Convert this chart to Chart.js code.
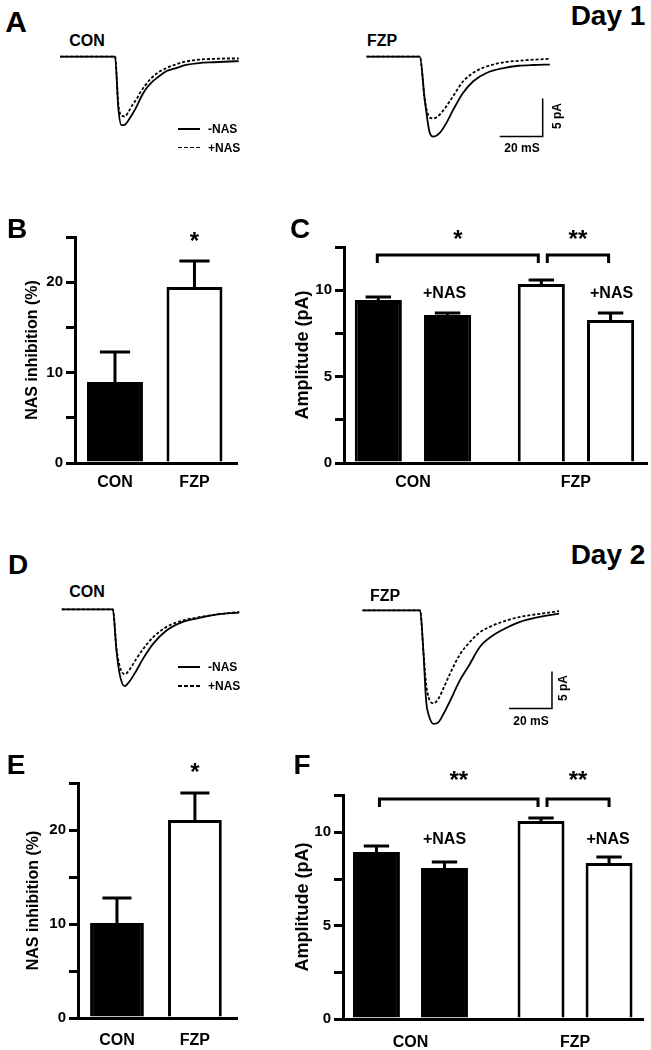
<!DOCTYPE html>
<html>
<head>
<meta charset="utf-8">
<title>NAS inhibition, Day 1 / Day 2</title>
<script src="https://cdn.jsdelivr.net/npm/chart.js@4.4.1/dist/chart.umd.min.js"></script>
<style>
  body { margin: 0; width: 651px; height: 1050px; position: relative; overflow: hidden; background: #fff;
         font-family: "Liberation Sans", Arial, sans-serif; font-weight: bold; color: #000; }
  canvas { position: absolute; }
  .t { position: absolute; white-space: nowrap; line-height: 1; transform: translate(-50%, -50%); }
  .l { position: absolute; white-space: nowrap; line-height: 1; transform: translateY(-50%); font-size: 12px; }
  .r { position: absolute; white-space: nowrap; line-height: 1; transform: translate(-50%, -50%) rotate(-90deg); font-size: 12px; }
  .seg { position: absolute; width: 22px; height: 1.6px; background: #000; }
  .dash { background: repeating-linear-gradient(to right, #000 0 4px, transparent 4px 6px); }
</style>
</head>
<body>
<canvas id="traceA1"></canvas>
<canvas id="traceA2"></canvas>
<canvas id="barB"></canvas>
<canvas id="barC"></canvas>
<canvas id="traceD1"></canvas>
<canvas id="traceD2"></canvas>
<canvas id="barE"></canvas>
<canvas id="barF"></canvas>

<div class="t" style="left:16px;top:22px;font-size:30px">A</div>
<div class="t" style="left:608px;top:16px;font-size:28px">Day 1</div>
<div class="t" style="left:87px;top:41px;font-size:16px">CON</div>
<div class="t" style="left:382px;top:41px;font-size:16px">FZP</div>
<div class="seg" style="left:178px;top:128px"></div>
<div class="l" style="left:208px;top:129px">-NAS</div>
<div class="seg dash" style="left:178px;top:146.5px"></div>
<div class="l" style="left:208px;top:147.5px">+NAS</div>
<div class="r" style="left:557px;top:116px">5 pA</div>
<div class="t" style="left:522px;top:148px;font-size:12px">20 mS</div>

<div class="t" style="left:17px;top:229px;font-size:28px">B</div>
<div class="t" style="left:300px;top:229px;font-size:28px">C</div>

<div class="t" style="left:18px;top:565px;font-size:28px">D</div>
<div class="t" style="left:608px;top:555px;font-size:28px">Day 2</div>
<div class="t" style="left:87px;top:592px;font-size:16px">CON</div>
<div class="t" style="left:385px;top:596px;font-size:16px">FZP</div>
<div class="seg" style="left:178px;top:666px"></div>
<div class="l" style="left:208px;top:667px">-NAS</div>
<div class="seg dash" style="left:178px;top:685px"></div>
<div class="l" style="left:208px;top:686px">+NAS</div>
<div class="r" style="left:563px;top:688px">5 pA</div>
<div class="t" style="left:531px;top:721px;font-size:12px">20 mS</div>

<div class="t" style="left:16px;top:765px;font-size:28px">E</div>
<div class="t" style="left:302px;top:765px;font-size:28px">F</div>

<script>
Chart.defaults.font.family = "'Liberation Sans', Arial, sans-serif";
Chart.defaults.font.weight = "bold";
Chart.defaults.color = "#000";

const groups = ["CON", "FZP"];
const groupFill = ["#000", "#fff"];

// Day 1 traces: time (ms from onset), current (pA)
const tConA = [-25.5, 0, 1.5, 3, 4.5, 6, 8, 10, 12, 14, 17, 20, 24, 28, 33, 39, 46, 53, 57.5];
const conCtrlA = [0, 0, -6.8, -9.05, -9.0, -8.5, -7.6, -6.6, -5.4, -4.4, -3.4, -2.7, -1.9, -1.55, -1.1, -0.85, -0.75, -0.65, -0.6];
const conNasA = [0, 0, -6.2, -7.8, -7.9, -7.4, -6.4, -5.6, -4.6, -3.8, -2.8, -2.1, -1.5, -1.05, -0.65, -0.4, -0.3, -0.25, -0.25];
const tFzpA = [-24.8, 0, 2.3, 4.6, 6.2, 9.3, 12.4, 15.5, 20, 25, 31, 39, 46, 53, 60.5];
const fzpCtrlA = [0, 0, -5.7, -10.0, -10.5, -10.0, -8.7, -7.0, -4.8, -3.2, -2.15, -1.5, -1.2, -1.1, -1.05];
const fzpNasA = [0, 0, -5.7, -8.0, -8.1, -7.6, -6.5, -5.2, -3.3, -2.1, -1.3, -0.75, -0.55, -0.4, -0.3];

// Day 2 traces
const tConD = [-23.7, 0, 1.7, 3.2, 5.5, 7.9, 10.9, 14, 18.6, 24.8, 32.5, 40.2, 47.9, 58.7];
const conCtrlD = [0, 0, -5.6, -8.8, -10.4, -9.7, -8.3, -6.7, -4.7, -2.9, -1.7, -1.15, -0.7, -0.45];
const conNasD = [0, 0, -5.3, -7.7, -8.8, -8.1, -6.7, -5.4, -3.8, -2.4, -1.5, -1.05, -0.7, -0.35];
const tFzpD = [-26.8, 0, 1.5, 2.8, 3.9, 6.2, 8.5, 10.8, 13.9, 18.5, 23.1, 27.7, 33.9, 40, 46.2, 53.9, 64.7];
const fzpCtrlD = [0, 0, -5.5, -12.3, -14.1, -15.4, -15.2, -14.1, -12.3, -9.5, -7.3, -5.0, -3.4, -2.4, -1.6, -1.0, -0.45];
const fzpNasD = [0, 0, -5.5, -10.0, -11.8, -12.6, -12.0, -10.6, -8.6, -6.0, -4.3, -3.0, -2.05, -1.4, -0.9, -0.55, -0.1];

const scaleMs = 20;
const scalePa = 5;

// NAS inhibition (%), mean and sem
const inhib1 = [8.96, 19.47];
const inhib1Err = [3.32, 2.88];
const inhib2 = [10.1, 21.06];
const inhib2Err = [2.66, 2.88];
const inhibTicks = [0, 5, 10, 15, 20, 25];
const inhibLabels = [0, 10, 20];

// amplitude (pA), -NAS and +NAS
const amp1Ctrl = [9.43, 10.36];
const amp1CtrlErr = [0.18, 0.23];
const amp1Nas = [8.56, 8.28];
const amp1NasErr = [0.12, 0.4];
const amp2Ctrl = [8.94, 10.61];
const amp2CtrlErr = [0.33, 0.16];
const amp2Nas = [8.09, 8.36];
const amp2NasErr = [0.32, 0.32];
const ampTicks1 = [0, 2.5, 5, 7.5, 10, 12.5];
const ampTicks2 = [0, 2.5, 5, 7.5, 10, 12];
const ampLabels = [0, 5, 10];

const scaleBar = {
  id: "scaleBar",
  afterDatasetsDraw(chart, args, o) {
    const { ctx, scales: { x, y } } = chart;
    const x1 = x.getPixelForValue(o.t), y1 = y.getPixelForValue(o.a);
    const x0 = x.getPixelForValue(o.t - scaleMs), y0 = y.getPixelForValue(o.a + scalePa);
    ctx.save();
    ctx.strokeStyle = "#000";
    ctx.lineWidth = 1.5;
    ctx.beginPath();
    ctx.moveTo(x0, y1);
    ctx.lineTo(x1, y1);
    ctx.lineTo(x1, y0);
    ctx.stroke();
    ctx.restore();
  },
};

const marks = {
  id: "marks",
  afterDatasetsDraw(chart, args, o) {
    const { ctx } = chart;
    const ys = chart.scales.y;
    const bar = (d, i) => chart.getDatasetMeta(d).data[i];
    const errTop = (d, i) => {
      const ds = chart.data.datasets[d];
      return ys.getPixelForValue(ds.data[i].y + ds.errors[i]);
    };
    ctx.save();
    ctx.strokeStyle = "#000";
    ctx.fillStyle = "#000";
    ctx.lineWidth = 3;
    chart.data.datasets.forEach((ds, d) => {
      chart.getDatasetMeta(d).data.forEach((el, i) => {
        const yt = errTop(d, i), cw = el.width * 0.27;
        ctx.beginPath();
        ctx.moveTo(el.x, el.y);
        ctx.lineTo(el.x, yt);
        ctx.moveTo(el.x - cw, yt);
        ctx.lineTo(el.x + cw, yt);
        ctx.stroke();
      });
    });
    ctx.textAlign = "center";
    (o.notes || []).forEach((n) => {
      ctx.font = "bold " + n.size + "px 'Liberation Sans', Arial, sans-serif";
      const base = n.text.startsWith("*") ? 0.56 : 0.358;
      ctx.fillText(n.text, bar(n.d, n.i).x + (n.dx || 0), ys.getPixelForValue(n.level) + n.size * base);
    });
    (o.brackets || []).forEach((b) => {
      const xa = bar(b.from[0], b.from[1]).x + b.from[2];
      const xb = bar(b.to[0], b.to[1]).x + b.to[2];
      const yt = ys.getPixelForValue(b.level);
      ctx.beginPath();
      ctx.moveTo(xa, yt + 8);
      ctx.lineTo(xa, yt);
      ctx.lineTo(xb, yt);
      ctx.lineTo(xb, yt + 8);
      ctx.stroke();
      ctx.font = "bold 24px 'Liberation Sans', Arial, sans-serif";
      ctx.fillText(b.text, (xa + xb) / 2, ys.getPixelForValue(b.textLevel) + 24 * 0.56);
    });
    ctx.restore();
  },
};

function traceChart(id, box, t, ctrl, nas, bar) {
  const el = document.getElementById(id);
  el.width = Math.round((box.t1 - box.t0) * box.pxMs);
  el.height = Math.round((box.a1 - box.a0) * box.pxPa);
  el.style.left = Math.round(box.x + box.t0 * box.pxMs) + "px";
  el.style.top = Math.round(box.y - box.a1 * box.pxPa) + "px";
  const pts = (v) => t.map((x, i) => ({ x, y: v[i] }));
  const line = { borderColor: "#000", borderWidth: 1.8, pointRadius: 0, cubicInterpolationMode: "monotone" };
  new Chart(el, {
    type: "line",
    data: {
      datasets: [
        { label: "-NAS", data: pts(ctrl), ...line },
        { label: "+NAS", data: pts(nas), borderDash: [3, 2], ...line },
      ],
    },
    options: {
      responsive: false,
      animation: false,
      events: [],
      layout: { padding: 0 },
      plugins: { legend: { display: false }, tooltip: { enabled: false }, scaleBar: bar || false },
      scales: {
        x: { type: "linear", display: false, min: box.t0, max: box.t1 },
        y: { display: false, min: box.a0, max: box.a1 },
      },
    },
    plugins: [scaleBar],
  });
}

function series(vals, errs) {
  return { data: groups.map((g, i) => ({ x: i, y: vals[i] })), errors: errs, backgroundColor: groupFill };
}

function barPanel(id, p) {
  const el = document.getElementById(id);
  el.width = p.w;
  el.height = p.h;
  el.style.left = p.left + "px";
  el.style.top = p.top + "px";
  new Chart(el, {
    type: "bar",
    data: { datasets: p.datasets },
    options: {
      responsive: false,
      animation: false,
      events: [],
      layout: { padding: { left: 0, top: p.areaTop - p.top, right: p.left + p.w - p.areaRight, bottom: 0 } },
      datasets: { bar: { categoryPercentage: p.cp, barPercentage: p.bp, borderWidth: 3, borderColor: "#000" } },
      plugins: {
        legend: { display: false },
        tooltip: { enabled: false },
        marks: { notes: p.notes, brackets: p.brackets || [] },
      },
      scales: {
        x: {
          type: "linear",
          offset: false,
          bounds: "data",
          min: p.xMin,
          max: p.xMax,
          afterBuildTicks: (s) => { s.ticks = groups.map((g, i) => ({ value: i })); },
          afterFit: (s) => { s.height = p.top + p.h - p.areaBottom; },
          grid: { display: false, drawTicks: false },
          border: { display: true, color: "#000", width: 3, z: 1 },
          ticks: { callback: (v) => groups[v], padding: p.labelPad, font: { size: 16 }, color: "#000", maxRotation: 0, autoSkip: false },
        },
        y: {
          min: 0,
          max: p.yTicks[p.yTicks.length - 1],
          afterBuildTicks: (s) => { s.ticks = p.yTicks.map((v) => ({ value: v })); },
          afterFit: (s) => { s.width = p.axisX - p.left; },
          grid: { drawOnChartArea: false, tickLength: 9, lineWidth: 3, color: "#000" },
          border: { display: true, color: "#000", width: 3 },
          ticks: { callback: (v) => (p.yLabels.includes(v) ? v : ""), padding: 3, font: { size: 15 }, color: "#000", autoSkip: false },
          title: {
            display: true,
            text: p.title,
            font: { size: p.titleSize },
            color: "#000",
            padding: { top: p.titleX - p.left - p.titleSize * 0.6, bottom: 0 },
          },
        },
      },
    },
    plugins: [marks],
  });
}

// A
traceChart("traceA1", { x: 115, y: 57, t0: -27, t1: 59, a0: -11, a1: 1, pxMs: 2.15, pxPa: 7.6 }, tConA, conCtrlA, conNasA);
traceChart("traceA2", { x: 420, y: 57, t0: -26, t1: 62, a0: -12, a1: 1, pxMs: 2.15, pxPa: 7.6 }, tFzpA, fzpCtrlA, fzpNasA,
  { t: 57.2, a: -10.5 });

// B
barPanel("barB", {
  left: 0, top: 190, w: 245, h: 305, axisX: 75, areaTop: 237, areaBottom: 463, areaRight: 237,
  xMin: -0.503, xMax: 1.535, cp: 1, bp: 0.704, labelPad: 10,
  yTicks: inhibTicks, yLabels: inhibLabels, title: "NAS inhibition (%)", titleSize: 16, titleX: 33,
  datasets: [series(inhib1, inhib1Err)],
  notes: [{ d: 0, i: 1, text: "*", size: 24, level: 25.2 }],
});

// C
barPanel("barC", {
  left: 262, top: 190, w: 389, h: 305, axisX: 344, areaTop: 247, areaBottom: 463, areaRight: 647,
  xMin: -0.423, xMax: 1.436, cp: 0.85, bp: 0.68, labelPad: 10,
  yTicks: ampTicks1, yLabels: ampLabels, title: "Amplitude (pA)", titleSize: 18, titleX: 303,
  datasets: [series(amp1Ctrl, amp1CtrlErr), series(amp1Nas, amp1NasErr)],
  notes: [
    { d: 1, i: 0, text: "+NAS", size: 16, level: 9.87, dx: -3 },
    { d: 1, i: 1, text: "+NAS", size: 16, level: 9.87, dx: 1 },
  ],
  brackets: [
    { from: [0, 0, -1], to: [0, 1, -3], level: 12.04, textLevel: 13.28, text: "*" },
    { from: [0, 1, 6], to: [1, 1, -2], level: 12.04, textLevel: 13.28, text: "**" },
  ],
});

// D
traceChart("traceD1", { x: 113, y: 609, t0: -25, t1: 60, a0: -12, a1: 1, pxMs: 2.15, pxPa: 7.35 }, tConD, conCtrlD, conNasD);
traceChart("traceD2", { x: 420, y: 610, t0: -28, t1: 67, a0: -16.5, a1: 1, pxMs: 2.15, pxPa: 7.35 }, tFzpD, fzpCtrlD, fzpNasD,
  { t: 61.4, a: -13.3 });

// E
barPanel("barE", {
  left: 0, top: 740, w: 245, h: 310, axisX: 78, areaTop: 783, areaBottom: 1018, areaRight: 237,
  xMin: -0.5, xMax: 1.54, cp: 1, bp: 0.69, labelPad: 13,
  yTicks: inhibTicks, yLabels: inhibLabels, title: "NAS inhibition (%)", titleSize: 16, titleX: 34,
  datasets: [series(inhib2, inhib2Err)],
  notes: [{ d: 0, i: 1, text: "*", size: 24, level: 26.8 }],
});

// F
barPanel("barF", {
  left: 262, top: 740, w: 389, h: 310, axisX: 343, areaTop: 795, areaBottom: 1019, areaRight: 643,
  xMin: -0.41, xMax: 1.413, cp: 0.827, bp: 0.69, labelPad: 14,
  yTicks: ampTicks2, yLabels: ampLabels, title: "Amplitude (pA)", titleSize: 18, titleX: 303.5,
  datasets: [series(amp2Ctrl, amp2CtrlErr), series(amp2Nas, amp2NasErr)],
  notes: [
    { d: 1, i: 0, text: "+NAS", size: 16, level: 9.67, dx: 0 },
    { d: 1, i: 1, text: "+NAS", size: 16, level: 9.67, dx: -1 },
  ],
  brackets: [
    { from: [0, 0, 3], to: [0, 1, -3], level: 11.78, textLevel: 13.07, text: "**" },
    { from: [0, 1, 6], to: [1, 1, 0], level: 11.78, textLevel: 13.07, text: "**" },
  ],
});
</script>
</body>
</html>
